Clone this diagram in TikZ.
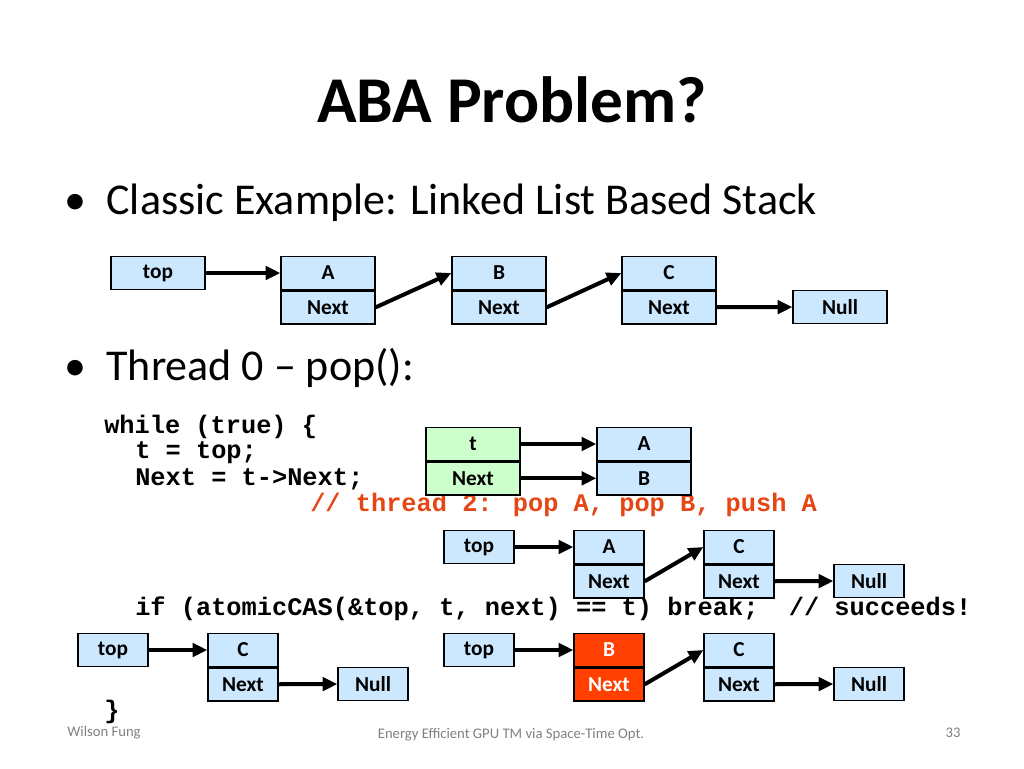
\documentclass[tikz,border=0pt]{standalone}
\usepackage{fontspec}
\setmainfont{Carlito}
\newfontfamily\code{Liberation Mono}
\usetikzlibrary{arrows.meta,positioning}
\definecolor{cellblue}{RGB}{204,232,255}
\definecolor{cellgreen}{RGB}{204,255,204}
\definecolor{cellred}{RGB}{255,64,0}
\definecolor{commentred}{RGB}{230,70,20}
\tikzset{
  cell/.style={draw,line width=1pt,fill=cellblue,minimum height=24.75pt,
    inner sep=0pt,font=\fontsize{16}{18}\selectfont\bfseries},
  wide/.style={cell,minimum width=70.5pt},
  narrow/.style={cell,minimum width=52.5pt},
  link/.style={line width=3pt,-{Triangle[length=11pt,width=10pt]}},
  codeline/.style={anchor=west,inner sep=0pt,font=\code\fontsize{19}{21}\selectfont\bfseries},
  foot/.style={text=gray,font=\fontsize{11}{13}\selectfont}
}
\begin{document}
\begin{tikzpicture}[x=0.75pt,y=-0.75pt]
  \useasboundingbox (0,0) rectangle (1024,768);
  \node[font=\fontsize{49}{55}\selectfont\bfseries] (title) at (512,100) {ABA Problem?};
  \node[anchor=west,font=\fontsize{33}{38}\selectfont] (b1) at (60,203) {\textbullet\ \ Classic Example: Linked List Based Stack};
  \node[anchor=west,font=\fontsize{33}{38}\selectfont] (b2) at (60,368) {\textbullet\ \ Thread 0 -- pop():};
  % stack
  \node[wide] (top1) at (158,273) {top};
  \node[wide] (a1) at (328,273) {A};
  \node[wide,below=0pt of a1] (an1) {Next};
  \node[wide] (b1b) at (499,273) {B};
  \node[wide,below=0pt of b1b] (bn1) {Next};
  \node[wide] (c1) at (669,273) {C};
  \node[wide,below=0pt of c1] (cn1) {Next};
  \node[wide] (null1) at (840,307) {Null};
  \draw[link] (top1) -- (a1);
  \draw[link] (an1.east) -- (b1b.west);
  \draw[link] (bn1.east) -- (c1.west);
  \draw[link] (cn1) -- (null1);
  % code
  \node[codeline] (l1) at (104,427) {while (true) \{};
  \node[codeline] (l2) at (135,453) {t = top;};
  \node[codeline] (l3) at (135,479) {Next = t->Next;};
  \node[codeline,text=commentred] (l4) at (310,505) {// thread 2: pop A, pop B, push A};
  \node[codeline] (l5) at (135,609) {if (atomicCAS(\&top, t, next) == t) break;\ \ // succeeds!};
  \node[codeline] (l6) at (104,712) {\}};
  % local
  \node[wide,fill=cellgreen] (t2) at (473,444) {t};
  \node[wide,fill=cellgreen,below=0pt of t2] (tn2) {Next};
  \node[wide] (a2) at (644,444) {A};
  \node[wide,below=0pt of a2] (b2b) {B};
  \draw[link] (t2) -- (a2);
  \draw[link] (tn2) -- (b2b);
  % after thread 2
  \node[narrow] (top3) at (479,547) {top};
  \node[narrow] (a3) at (609,547) {A};
  \node[narrow,below=0pt of a3] (an3) {Next};
  \node[narrow] (c3) at (739,547) {C};
  \node[narrow,below=0pt of c3] (cn3) {Next};
  \node[narrow] (null3) at (869,581) {Null};
  \draw[link] (top3) -- (a3);
  \draw[link] (an3.east) -- (c3.west);
  \draw[link] (cn3) -- (null3);
  % result left
  \node[narrow] (top4) at (113,650) {top};
  \node[narrow] (c4) at (243,650) {C};
  \node[narrow,below=0pt of c4] (cn4) {Next};
  \node[narrow] (null4) at (373,684) {Null};
  \draw[link] (top4) -- (c4);
  \draw[link] (cn4) -- (null4);
  % result right
  \node[narrow] (top5) at (479,650) {top};
  \node[narrow,fill=cellred,text=white] (b5) at (609,650) {B};
  \node[narrow,fill=cellred,text=white,below=0pt of b5] (bn5) {Next};
  \node[narrow] (c5) at (739,650) {C};
  \node[narrow,below=0pt of c5] (cn5) {Next};
  \node[narrow] (null5) at (869,684) {Null};
  \draw[link] (top5) -- (b5);
  \draw[link] (bn5.east) -- (c5.west);
  \draw[link] (cn5) -- (null5);
  % footer
  \node[foot] (f1) at (104,733) {Wilson Fung};
  \node[foot] (f2) at (511,735) {Energy Efficient GPU TM via Space-Time Opt.};
  \node[foot] (f3) at (953,733) {33};
\end{tikzpicture}
\end{document}
